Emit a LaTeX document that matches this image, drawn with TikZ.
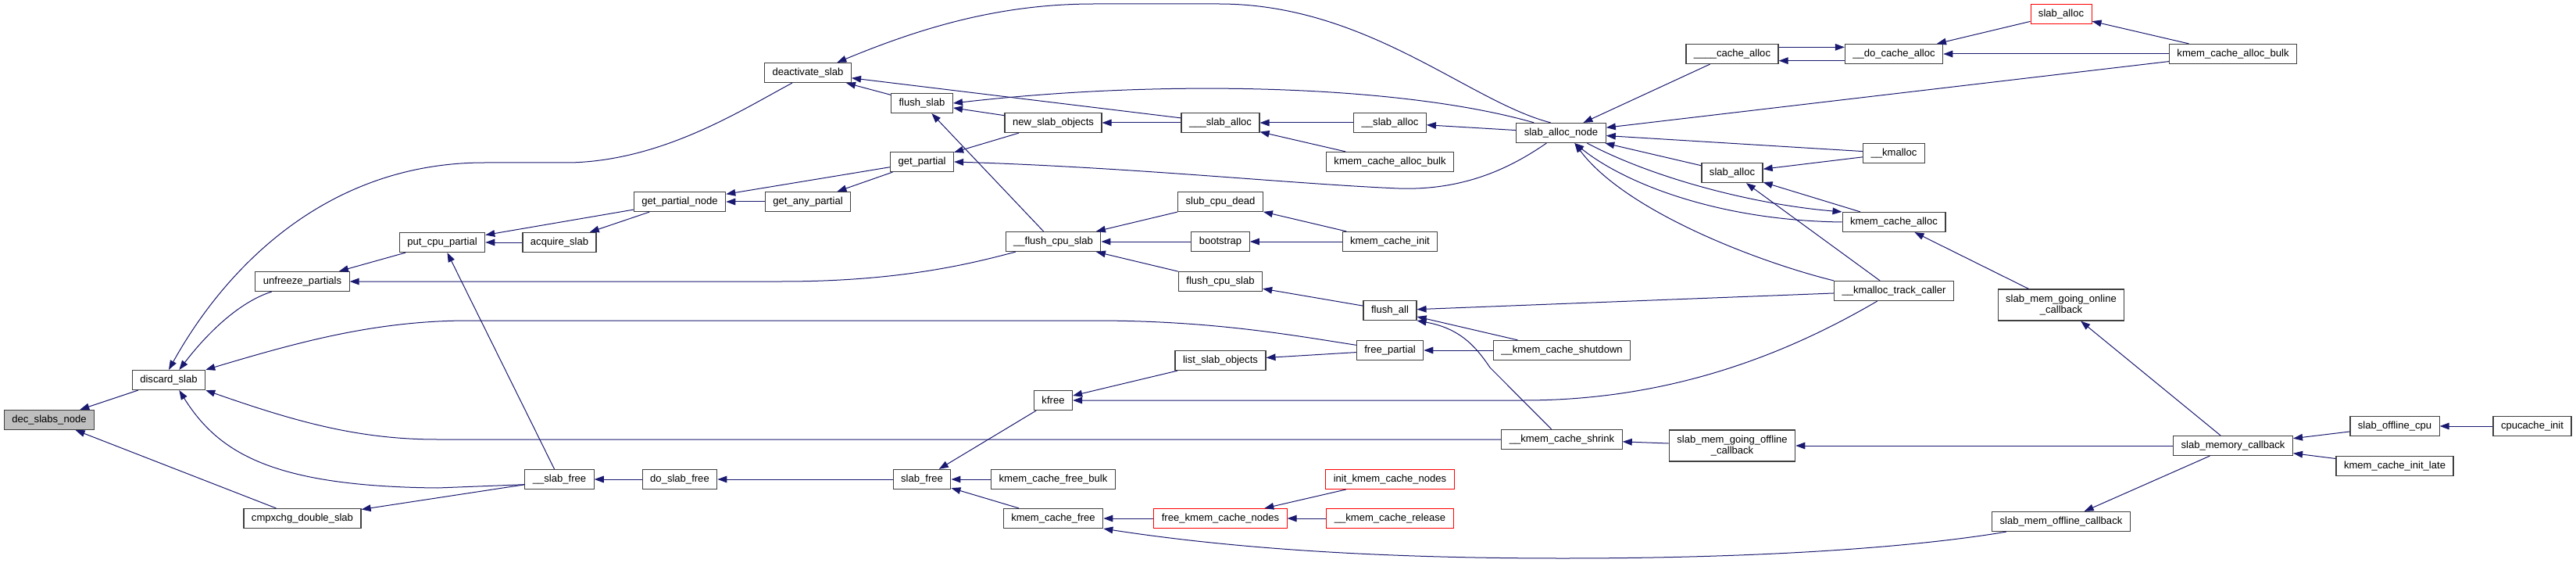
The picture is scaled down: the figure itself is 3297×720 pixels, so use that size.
\documentclass[tikz,border=0pt]{standalone}
\usepackage{fontspec}
\setmainfont{Liberation Sans}
\usetikzlibrary{arrows.meta}
\definecolor{edgeblue}{HTML}{191970}
\definecolor{boxgray}{HTML}{BFBFBF}
\definecolor{boxedge}{HTML}{404040}
\tikzset{
  fnbox/.style={draw=boxedge, line width=0.9pt, fill=white, minimum height=18.75pt, inner xsep=7.5pt, inner ysep=2pt, align=center, font=\fontsize{9.8}{10.6}\selectfont},
  fnboxred/.style={fnbox, draw=red, line width=0.7pt},
  fnboxroot/.style={fnbox, fill=boxgray},
  fnboxtall/.style={fnbox, minimum height=30pt},
  callarrow/.style={{Triangle[length=9pt,width=6.5pt]}-, color=edgeblue, line width=0.75pt}
}
\begin{document}
\begin{tikzpicture}[x=0.75pt, y=-0.75pt]
  \fill[white] (0,0) rectangle (3297,720);
  \useasboundingbox (0,0) rectangle (3297,720);
  \node[fnboxroot] (decslabs) at (63,537) {dec\_slabs\_node};
  \node[fnbox] (discard) at (216,486) {discard\_slab};
  \node[fnbox] (unfreeze) at (387,360) {unfreeze\_partials};
  \node[fnbox] (cmpxchg) at (387,663) {cmpxchg\_double\_slab};
  \node[fnbox] (putcpu) at (566,310) {put\_cpu\_partial};
  \node[fnbox] (acquire) at (716,310) {acquire\_slab};
  \node[fnbox] (slabfreeB) at (716,613) {\_\_slab\_free};
  \node[fnbox] (getpnode) at (870,258) {get\_partial\_node};
  \node[fnbox] (doslabfree) at (870,613) {do\_slab\_free};
  \node[fnbox] (deactivate) at (1034,93) {deactivate\_slab};
  \node[fnbox] (getany) at (1034,258) {get\_any\_partial};
  \node[fnbox] (flushslab) at (1180,132) {flush\_slab};
  \node[fnbox] (getpartial) at (1180,207) {get\_partial};
  \node[fnbox] (slabfree) at (1180,613) {slab\_free};
  \node[fnbox] (newobjs) at (1348,157) {new\_slab\_objects};
  \node[fnbox] (flushcpuB) at (1348,309) {\_\_flush\_cpu\_slab};
  \node[fnbox] (kfree) at (1348,512) {kfree};
  \node[fnbox] (freebulk) at (1348,613) {kmem\_cache\_free\_bulk};
  \node[fnbox] (cachefree) at (1348,663) {kmem\_cache\_free};
  \node[fnbox] (slaballocC) at (1562,157) {\_\_\_slab\_alloc};
  \node[fnbox] (cpudead) at (1562,258) {slub\_cpu\_dead};
  \node[fnbox] (bootstrap) at (1562,309) {bootstrap};
  \node[fnbox] (flushcpu) at (1562,360) {flush\_cpu\_slab};
  \node[fnbox] (listobjs) at (1562,461) {list\_slab\_objects};
  \node[fnboxred] (freenodes) at (1562,663) {free\_kmem\_cache\_nodes};
  \node[fnbox] (slaballocB) at (1779,157) {\_\_slab\_alloc};
  \node[fnbox] (allocbulkA) at (1779,207) {kmem\_cache\_alloc\_bulk};
  \node[fnbox] (cacheinit) at (1779,309) {kmem\_cache\_init};
  \node[fnbox] (flushall) at (1779,397) {flush\_all};
  \node[fnbox] (freepartial) at (1779,448) {free\_partial};
  \node[fnboxred] (initnodes) at (1779,613) {init\_kmem\_cache\_nodes};
  \node[fnboxred] (release) at (1779,663) {\_\_kmem\_cache\_release};
  \node[fnbox] (allocnode) at (1998,170) {slab\_alloc\_node};
  \node[fnbox] (shutdown) at (1999,448) {\_\_kmem\_cache\_shutdown};
  \node[fnbox] (shrink) at (1999,562) {\_\_kmem\_cache\_shrink};
  \node[fnbox] (cacheallocD) at (2217,69) {\_\_\_\_cache\_alloc};
  \node[fnbox] (slaballoc) at (2217,221) {slab\_alloc};
  \node[fnboxtall] (goingoff) at (2217,570) {slab\_mem\_going\_offline\\\_callback};
  \node[fnbox] (docache) at (2424,69) {\_\_do\_cache\_alloc};
  \node[fnbox] (kmalloc) at (2424,196) {\_\_kmalloc};
  \node[fnbox] (cachealloc) at (2424,284) {kmem\_cache\_alloc};
  \node[fnbox] (trackcaller) at (2424,372) {\_\_kmalloc\_track\_caller};
  \node[fnboxred] (slaballocR) at (2638,18) {slab\_alloc};
  \node[fnboxtall] (goingon) at (2638,390) {slab\_mem\_going\_online\\\_callback};
  \node[fnbox] (offlinecb) at (2638,667) {slab\_mem\_offline\_callback};
  \node[fnbox] (allocbulkB) at (2858,69) {kmem\_cache\_alloc\_bulk};
  \node[fnbox] (memcb) at (2858,570) {slab\_memory\_callback};
  \node[fnbox] (offlinecpu) at (3065,545) {slab\_offline\_cpu};
  \node[fnbox] (initlate) at (3065,596) {kmem\_cache\_init\_late};
  \node[fnbox] (cpucache) at (3241,545) {cpucache\_init};
  \draw[callarrow] (decslabs) -- (discard);
  \draw[callarrow] (decslabs) -- (cmpxchg);
  \draw[callarrow] (discard.north) .. controls (290,340) and (420,208) .. (620,208) -- (730,208) .. controls (850,205) and (950,140) .. ([xshift=-15pt]deactivate.south);
  \draw[callarrow] ([xshift=10pt]discard.north) .. controls (270,420) and (310,385) .. ([xshift=16pt]unfreeze.south west);
  \draw[callarrow] (discard.north east) .. controls (380,438) and (480,410) .. (600,410) -- (1400,410) .. controls (1550,410) and (1650,428) .. ([yshift=5pt]freepartial.west);
  \draw[callarrow] (discard.south east) .. controls (380,540) and (460,562) .. (560,562) -- (shrink.west);
  \draw[callarrow] ([xshift=10pt]discard.south) .. controls (280,580) and (350,622) .. (560,624) -- ([yshift=-5pt]slabfreeB.west);
  \draw[callarrow] (cmpxchg) -- (slabfreeB);
  \draw[callarrow] (unfreeze) -- (putcpu);
  \draw[callarrow] (unfreeze.east) -- (1000,360) .. controls (1150,360) and (1240,338) .. ([xshift=10pt]flushcpuB.south west);
  \draw[callarrow] (putcpu) -- (getpnode);
  \draw[callarrow] (putcpu) -- (acquire);
  \draw[callarrow] (putcpu) -- (slabfreeB);
  \draw[callarrow] (acquire) -- (getpnode);
  \draw[callarrow] (getpnode) -- (getany);
  \draw[callarrow] (getpnode) -- (getpartial);
  \draw[callarrow] (getany) -- (getpartial);
  \draw[callarrow] ([xshift=-14pt]deactivate.north east) .. controls (1180,35) and (1280,5) .. (1400,5) -- (1560,5) .. controls (1750,5) and (1880,130) .. ([xshift=-10pt]allocnode.north);
  \draw[callarrow] (deactivate) -- (slaballocC);
  \draw[callarrow] (deactivate) -- (flushslab);
  \draw[callarrow] (flushslab.east) .. controls (1500,100) and (1800,110) .. ([xshift=-26pt]allocnode.north);
  \draw[callarrow] (flushslab) -- (newobjs);
  \draw[callarrow] (flushslab) -- (flushcpuB);
  \draw[callarrow] (getpartial) -- (newobjs);
  \draw[callarrow] (getpartial.east) .. controls (1450,214) and (1650,235) .. (1790,241) .. controls (1880,244) and (1940,210) .. ([xshift=-14pt]allocnode.south);
  \draw[callarrow] (newobjs) -- (slaballocC);
  \draw[callarrow] (slaballocC) -- (slaballocB);
  \draw[callarrow] (slaballocC) -- (allocbulkA);
  \draw[callarrow] (slaballocB) -- (allocnode);
  \draw[callarrow] (flushcpuB) -- (cpudead);
  \draw[callarrow] (flushcpuB) -- (bootstrap);
  \draw[callarrow] (flushcpuB) -- (flushcpu);
  \draw[callarrow] (cpudead) -- (cacheinit);
  \draw[callarrow] (bootstrap) -- (cacheinit);
  \draw[callarrow] (flushcpu) -- (flushall);
  \draw[callarrow] (flushall) -- (trackcaller);
  \draw[callarrow] (flushall) -- (shutdown);
  \draw[callarrow] (flushall.south east) .. controls (1870,420) and (1890,445) .. (1907,470) -- ([xshift=-10pt]shrink.north);
  \draw[callarrow] (freepartial) -- (shutdown);
  \draw[callarrow] (listobjs) -- (freepartial);
  \draw[callarrow] (kfree) -- (listobjs);
  \draw[callarrow] (kfree.east) -- (1950,512) .. controls (2150,512) and (2300,445) .. ([xshift=-16pt]trackcaller.south);
  \draw[callarrow] (slabfree) -- (kfree);
  \draw[callarrow] (slabfree) -- (freebulk);
  \draw[callarrow] (slabfree) -- (cachefree);
  \draw[callarrow] (doslabfree) -- (slabfree);
  \draw[callarrow] (slabfreeB) -- (doslabfree);
  \draw[callarrow] (cachefree) -- (freenodes);
  \draw[callarrow] (cachefree.south east) .. controls (1600,705) and (1800,714) .. (2000,714) .. controls (2300,714) and (2480,695) .. ([xshift=14pt]offlinecb.south west);
  \draw[callarrow] (freenodes) -- (initnodes);
  \draw[callarrow] (freenodes) -- (release);
  \draw[callarrow] (shrink) -- (goingoff);
  \draw[callarrow] (goingoff) -- (memcb);
  \draw[callarrow] (goingon) -- (memcb);
  \draw[callarrow] (offlinecb) -- (memcb);
  \draw[callarrow] (memcb) -- (offlinecpu);
  \draw[callarrow] (memcb) -- (initlate);
  \draw[callarrow] (offlinecpu) -- (cpucache);
  \draw[callarrow] (cachealloc) -- (goingon);
  \draw[callarrow] (allocnode) -- (cacheallocD);
  \draw[callarrow] (allocnode) -- (allocbulkB);
  \draw[callarrow] (allocnode) -- (kmalloc);
  \draw[callarrow] (allocnode) -- (slaballoc);
  \draw[callarrow] (cachealloc.north west) .. controls (2250,262) and (2120,230) .. ([xshift=25pt]allocnode.south);
  \draw[callarrow] ([xshift=13pt]allocnode.south) .. controls (2080,235) and (2200,282) .. (cachealloc.west);
  \draw[callarrow] ([xshift=13pt]allocnode.south) .. controls (2080,270) and (2250,335) .. (trackcaller.north west);
  \draw[callarrow] (slaballoc) -- (kmalloc);
  \draw[callarrow] (slaballoc) -- (cachealloc);
  \draw[callarrow] (slaballoc) -- (trackcaller);
  \draw[callarrow] ([yshift=6.5pt]docache.west) -- ([yshift=6.5pt]cacheallocD.east);
  \draw[callarrow] ([yshift=-6.5pt]cacheallocD.east) -- ([yshift=-6.5pt]docache.west);
  \draw[callarrow] (docache) -- (slaballocR);
  \draw[callarrow] (docache) -- (allocbulkB);
  \draw[callarrow] (slaballocR) -- (allocbulkB);
\end{tikzpicture}
\end{document}
